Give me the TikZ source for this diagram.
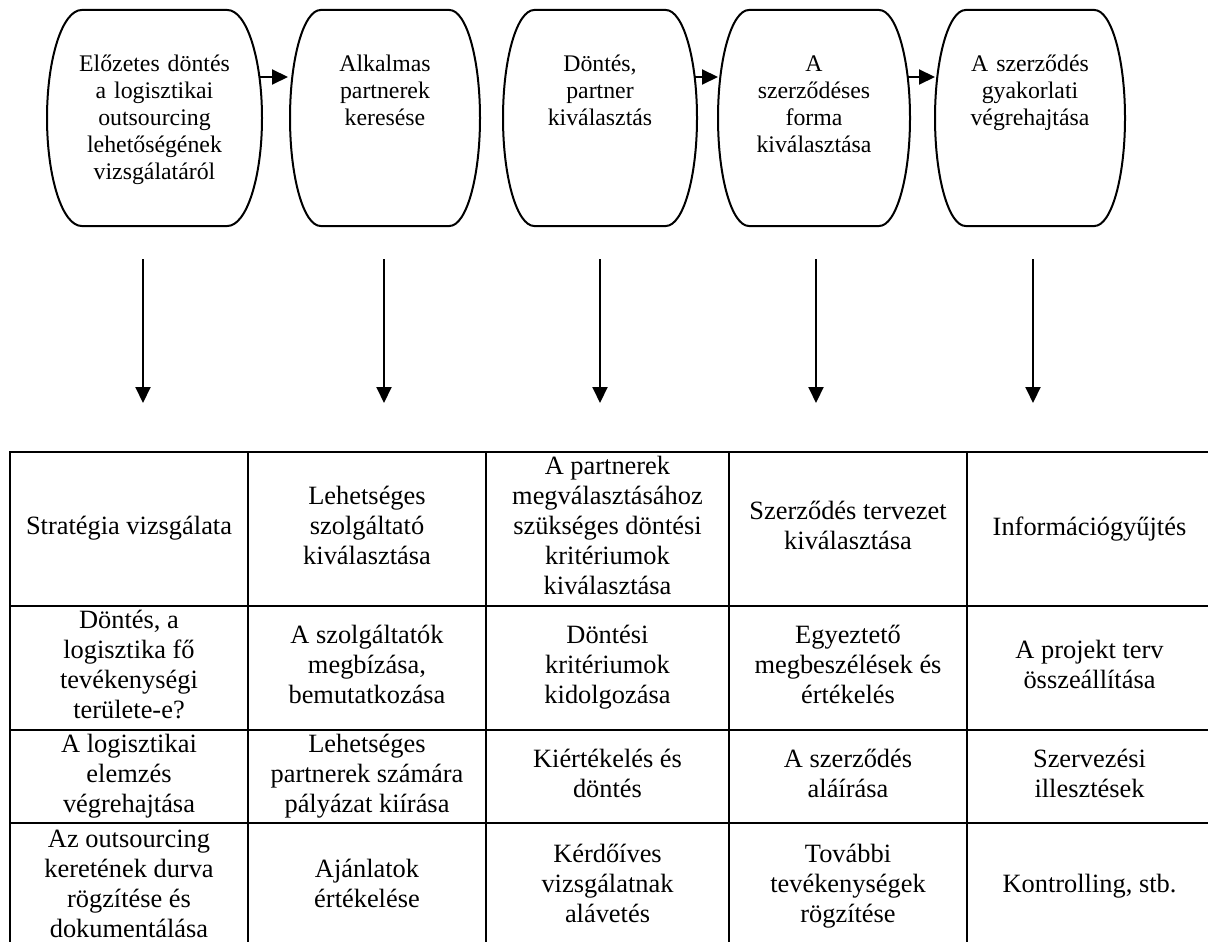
\documentclass[tikz,border=0pt]{standalone}
\usepackage{fontspec}
\setmainfont{Liberation Serif}
\usetikzlibrary{positioning,calc,arrows.meta}
\newcommand\cellstrut{\rule[-3.2pt]{0pt}{11.8pt}}

\begin{document}
\begin{tikzpicture}[
  x=0.5pt, y=0.5pt,
  frame/.style={rectangle, inner sep=0pt, outer sep=0pt, minimum height=108pt},
  outline/.style={line width=1pt},
  stagetext/.style={text width=100pt, align=center, inner sep=0pt, anchor=base, font=\fontsize{11.9}{13.5}\selectfont},
  cell/.style={rectangle, draw, line width=1pt, inner sep=0pt, outer sep=0pt, align=center,
    font=\fontsize{13.2}{15}\selectfont, execute at begin node=\cellstrut, execute at end node=\cellstrut},
  flow/.style={line width=1pt, -{Triangle[length=8pt,width=7.5pt]}},
  w1/.style={minimum width=119pt},
  w2/.style={minimum width=119pt},
  w3/.style={minimum width=121.5pt},
  w4/.style={minimum width=119pt},
  w5/.style={minimum width=122.5pt},
  h1/.style={minimum height=77pt},
  h2/.style={minimum height=62pt},
  h3/.style={minimum height=46.5pt},
  h4/.style={minimum height=64pt}
]
\useasboundingbox (0,0) rectangle (1208,-941);
\clip (0,0) rectangle (1208,-941);

% stages
\node[frame, minimum width=107.5pt] (f1) at (154.5,-118) {};
\node[frame, minimum width=95pt, right=14pt of f1] (f2) {};
\node[frame, minimum width=97pt, right=11.5pt of f2] (f3) {};
\node[frame, minimum width=96pt, right=10.5pt of f3] (f4) {};
\node[frame, minimum width=95pt, right=12.5pt of f4] (f5) {};

\foreach \i in {1,...,5}
  \draw[outline] let \p1=(f\i.north west), \p2=(f\i.south east),
    \n1={0.161*(\x2-\x1)}, \n2={0.5*(\y1-\y2)} in
    (\x1+\n1,\y1) -- (\x2-\n1,\y1)
    arc[start angle=90, end angle=-90, x radius=\n1, y radius=\n2]
    -- (\x1+\n1,\y2)
    arc[start angle=270, end angle=90, x radius=\n1, y radius=\n2] -- cycle;

\node[stagetext] (t1) at ([yshift=-31pt]f1.north) {Előzetes döntés\\a logisztikai\\outsourcing\\lehetőségének\\vizsgálatáról};
\node[stagetext] (t2) at ([yshift=-31pt]f2.north) {Alkalmas\\partnerek\\keresése};
\node[stagetext] (t3) at ([yshift=-31pt]f3.north) {Döntés,\\partner\\kiválasztás};
\node[stagetext] (t4) at ([yshift=-31pt]f4.north) {A\\szerződéses\\forma\\kiválasztása};
\node[stagetext] (t5) at ([yshift=-31pt]f5.north) {A szerződés\\gyakorlati\\végrehajtása};

\draw[flow] ([yshift=20.5pt,xshift=-1.5pt]f1.east) -- ([yshift=20.5pt,xshift=-1pt]f2.west);
\draw[flow] ([yshift=20.5pt,xshift=-1.5pt]f3.east) -- ([yshift=20.5pt]f4.west);
\draw[flow] ([yshift=20.5pt,xshift=-1.5pt]f4.east) -- ([yshift=20.5pt]f5.west);

% down arrows
\foreach \x [count=\i] in {143,384,600,816,1033} {
  \coordinate (u\i) at (\x,-259);
  \coordinate (v\i) at (\x,-403);
  \draw[flow] (u\i) -- (v\i);
}

% table
\node[cell, w1, h1, anchor=north west] (c11) at (10,-452) {Stratégia vizsgálata};
\node[cell, w2, h1, right=0pt of c11] (c12) {Lehetséges\\szolgáltató\\kiválasztása};
\node[cell, w3, h1, right=0pt of c12] (c13) {A partnerek\\megválasztásához\\szükséges döntési\\kritériumok\\kiválasztása};
\node[cell, w4, h1, right=0pt of c13] (c14) {Szerződés tervezet\\kiválasztása};
\node[cell, w5, h1, right=0pt of c14] (c15) {Információgyűjtés};

\node[cell, w1, h2, below=0pt of c11] (c21) {Döntés, a\\logisztika fő\\tevékenységi\\területe-e?};
\node[cell, w2, h2, right=0pt of c21] (c22) {A szolgáltatók\\megbízása,\\bemutatkozása};
\node[cell, w3, h2, right=0pt of c22] (c23) {Döntési\\kritériumok\\kidolgozása};
\node[cell, w4, h2, right=0pt of c23] (c24) {Egyeztető\\megbeszélések és\\értékelés};
\node[cell, w5, h2, right=0pt of c24] (c25) {A projekt terv\\összeállítása};

\node[cell, w1, h3, below=0pt of c21] (c31) {A logisztikai\\elemzés\\végrehajtása};
\node[cell, w2, h3, right=0pt of c31] (c32) {Lehetséges\\partnerek számára\\pályázat kiírása};
\node[cell, w3, h3, right=0pt of c32] (c33) {Kiértékelés és\\döntés};
\node[cell, w4, h3, right=0pt of c33] (c34) {A szerződés\\aláírása};
\node[cell, w5, h3, right=0pt of c34] (c35) {Szervezési\\illesztések};

\node[cell, w1, h4, below=0pt of c31] (c41) {Az outsourcing\\keretének durva\\rögzítése és\\dokumentálása};
\node[cell, w2, h4, right=0pt of c41] (c42) {Ajánlatok\\értékelése};
\node[cell, w3, h4, right=0pt of c42] (c43) {Kérdőíves\\vizsgálatnak\\alávetés};
\node[cell, w4, h4, right=0pt of c43] (c44) {További\\tevékenységek\\rögzítése};
\node[cell, w5, h4, right=0pt of c44] (c45) {Kontrolling, stb.};
\end{tikzpicture}
\end{document}
